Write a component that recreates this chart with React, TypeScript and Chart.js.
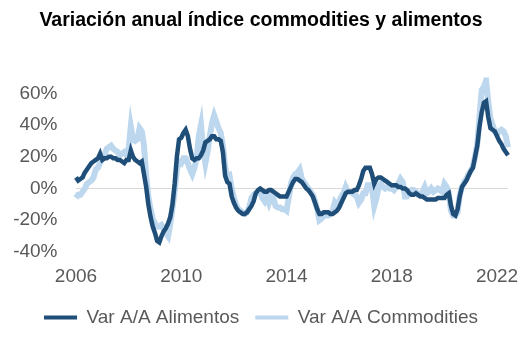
import React, { useEffect, useRef } from "react";
import { Chart, registerables } from "chart.js";

Chart.register(...registerables);

const startYear = 2006;
const monthCount = 198;
const labels: string[] = Array.from(
  { length: monthCount },
  (_, i) => `${startYear + Math.floor(i / 12)}-${String((i % 12) + 1).padStart(2, "0")}`
);
const tickEvery = 48;

const title = "Variación anual índice commodities y alimentos";
const seriesNames = ["Var A/A Alimentos", "Var A/A Commodities"];

// Var A/A Alimentos (%), monthly Jan 2006 – Jun 2022
const alimentos = [
  7, 5, 6, 7, 10, 12, 14, 16, 17, 18, 19, 22,
  18, 19, 19, 20, 20, 19, 19, 18, 18, 17, 16, 18,
  18, 24, 20, 18, 17, 16, 17, 9, 1, -10, -18, -24,
  -28, -33, -34, -30, -27, -25, -22, -18, -10, 3, 20, 31,
  32, 35, 37, 33, 25, 19, 18, 19, 19, 21, 24, 29,
  30, 31, 33, 33, 31, 31, 30, 23, 8, 4, 3, -5,
  -9, -12, -14, -15, -16, -16, -15, -13, -11, -8, -3, -1,
  0, -1, -2, -2, -1, -1, -2, -3, -4, -5, -5, -5,
  -5, -2, 1, 4, 6, 6, 5, 4, 2, 0, -1, -3,
  -5, -9, -13, -16, -16, -15, -15, -15, -16, -16, -15, -14,
  -12, -9, -6, -3, -2, -2, -2, -1, -1, 2, 6, 11,
  13, 13, 13, 9, 3, 6, 7, 7, 6, 5, 4, 3,
  2, 2, 2, 1, 1, 0, 0, -1, -3, -4, -4, -3,
  -4, -5, -5, -6, -7, -7, -7, -7, -7, -6, -6, -6,
  -6, -4, -3, -11, -16, -17, -13, -5, 1, 3, 5, 8,
  11, 13, 20, 27, 39, 48, 54, 55, 45, 38, 37, 36,
  33, 30, 28, 25, 23, 21,
];

// Var A/A Commodities (%), monthly Jan 2006 – Jun 2022
const commodities = [
  -6, -4, -4, -2, 0, 3, 4, 5, 7, 12, 13, 16,
  19, 21, 25, 26, 27, 25, 24, 23, 21, 22, 23, 21,
  25, 39, 31, 30, 31, 38, 36, 27, 8, -5, -13, -19,
  -22, -24, -24, -23, -25, -28, -30, -22, -12, -2, 12, 17,
  16, 19, 19, 16, 12, 9, 13, 19, 33, 40, 25, 16,
  23, 33, 41, 46, 42, 38, 35, 27, 14, 7, 8, 0,
  -6, -10, -13, -14, -15, -16, -15, -12, -6, -4, -3, -2,
  -2, -6, -8, -5, -9, -5, -6, -11, -12, -12, -13, -13,
  -14, -6, 3, 7, 9, 10, 12, 6, 4, 2, 0, -2,
  -4, -8, -13, -20, -19, -17, -17, -17, -16, -14, -9, -11,
  -8, -5, -3, 1, -2, -2, -3, -4, -5, -9, -7, -3,
  -3, 2, 2, 0, -11, -6, 1, 3, 1, 0, 1, 0,
  0, -1, 1, 3, 6, 4, -5, -5, -3, -1, -1, -2,
  -4, -4, -2, 1, -3, -2, 0, -2, -1, 0, -1, -2,
  3, 1, -3, -14, -17, -17, -15, -4, 1, 4, 6, 9,
  11, 14, 20, 28, 45, 62, 64, 68, 55, 44, 40, 36,
  34, 36, 37, 36, 33, 26,
];

const yMin = -40;
const yMax = 70;
const yStep = 20;

const FONT = "'Liberation Sans', Arial, sans-serif";
const DARK = "#1F4E79";
const LIGHT = "#BDD7EE";
const TEXT = "#595959";
const TICK_SIZE = 19;

export default function App() {
  const ref = useRef<HTMLCanvasElement | null>(null);

  useEffect(() => {
    if (!ref.current) return;
    const chart = new Chart(ref.current, {
      type: "line",
      data: {
        labels,
        datasets: [
          {
            label: seriesNames[0],
            data: alimentos,
            borderColor: DARK,
            backgroundColor: DARK,
            borderWidth: 4.5,
            pointRadius: 0,
            tension: 0,
            order: 0,
          },
          {
            label: seriesNames[1],
            data: commodities,
            borderColor: LIGHT,
            backgroundColor: LIGHT,
            borderWidth: 6,
            pointRadius: 0,
            tension: 0,
            order: 1,
          },
        ],
      },
      options: {
        animation: false,
        responsive: false,
        devicePixelRatio: 1,
        layout: { padding: { top: 0, left: 0, right: 5, bottom: 4 } },
        plugins: {
          title: {
            display: true,
            text: title,
            color: "#000",
            font: { family: FONT, size: 19.5, weight: "bold" },
            padding: { top: 9, bottom: 45 },
          },
          legend: {
            position: "bottom",
            labels: {
              boxWidth: 33,
              boxHeight: 4,
              color: TEXT,
              font: { family: FONT, size: TICK_SIZE },
              padding: 16,
              generateLabels: (c: any) =>
                Chart.defaults.plugins.legend.labels
                  .generateLabels(c)
                  .map((it: any) => ({ ...it, lineWidth: 0 })),
            },
          },
          tooltip: { enabled: false },
        },
        scales: {
          x: {
            type: "category",
            grid: { display: false, drawTicks: false },
            border: { display: false },
            ticks: {
              autoSkip: false,
              maxRotation: 0,
              color: TEXT,
              font: { family: FONT, size: TICK_SIZE },
              padding: 13,
              callback: (_v: any, i: number) =>
                i % tickEvery === 0 ? labels[i].slice(0, 4) : "",
            },
            afterFit: (s: any) => {
              s.height = 40;
            },
          },
          y: {
            min: yMin,
            max: yMax,
            grid: {
              drawTicks: false,
              color: (ctx: any) =>
                ctx.tick && ctx.tick.value === 0 ? "#D9D9D9" : "rgba(0,0,0,0)",
            },
            border: { display: false },
            ticks: {
              stepSize: yStep,
              includeBounds: false,
              color: TEXT,
              font: { family: FONT, size: TICK_SIZE },
              padding: 18.5,
              callback: (v: any) => `${v}%`,
            },
            afterFit: (s: any) => {
              s.width = 76;
            },
          },
          yRight: {
            position: "right",
            min: yMin,
            max: yMax,
            grid: { display: false, drawTicks: false },
            border: { display: false },
            ticks: { display: false },
            afterFit: (s: any) => {
              s.width = 14;
            },
          },
        },
      },
    });
    return () => chart.destroy();
  }, []);

  return (
    <div style={{ position: "fixed", left: 0, top: 0, width: 527, height: 341, background: "#fff" }}>
      <canvas ref={ref} width={527} height={341} />
    </div>
  );
}
